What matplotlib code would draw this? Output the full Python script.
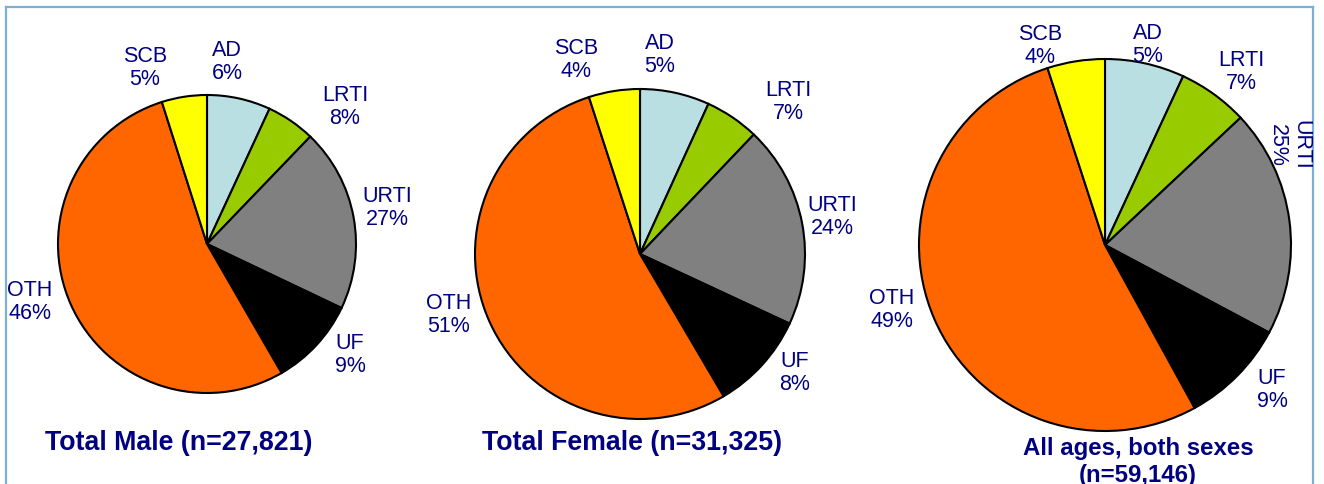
import matplotlib
matplotlib.use("Agg")
import matplotlib.pyplot as plt
from matplotlib.lines import Line2D

plt.rcParams['font.family'] = ['Liberation Sans', 'DejaVu Sans']

categories = ["AD", "LRTI", "URTI", "UF", "OTH", "SCB"]
colors = ["#B9DFE3", "#99CC00", "#808080", "#000000", "#FF6600", "#FFFF00"]

# slice sizes as drawn (percent)
male_sizes = [6.9, 5.3, 19.9, 9.6, 53.5, 4.9]
female_sizes = [6.8, 5.3, 19.8, 9.6, 53.4, 5.0]
all_sizes = [6.9, 6.1, 19.8, 9.2, 53.0, 5.0]

# percentages as printed in the labels
male_labels = [6, 8, 27, 9, 46, 5]
female_labels = [5, 7, 24, 8, 51, 4]
all_labels = [5, 7, 25, 9, 49, 4]

titles = ["Total Male (n=27,821)", "Total Female (n=31,325)",
          "All ages, both sexes\n(n=59,146)"]

W, H = 1324, 485
NAVY = "#000080"

fig = plt.figure(figsize=(W / 100, H / 100), dpi=100)
ax = fig.add_axes([0, 0, 1, 1])


def sy(y):
    return H - y


pies = [
    dict(sizes=male_sizes, labels=male_labels, center=(207, 245), r=149,
         label_pos=[(227, 62), (345, 107), (387, 208), (350, 355), (30, 302), (145, 68)],
         title_pos=(179, 443), tsize=19.3, tls=1.1),
    dict(sizes=female_sizes, labels=female_labels, center=(640, 255), r=165,
         label_pos=[(660, 55), (788, 102), (832, 217), (795, 373), (449, 315), (576, 60)],
         title_pos=(632, 443), tsize=19.3, tls=1.1),
    dict(sizes=all_sizes, labels=all_labels, center=(1105, 246), r=186,
         label_pos=[(1148, 45), (1241, 72), (1289, 145), (1272, 390), (892, 310), (1040, 46)],
         title_pos=(1138, 462), tsize=17.3, tls=1.25),
]

for i, p in enumerate(pies):
    cx, cy = p["center"]
    ax.pie(p["sizes"], colors=colors, startangle=90, counterclock=False,
           center=(cx, sy(cy)), radius=p["r"], frame=True,
           wedgeprops=dict(edgecolor="black", linewidth=1.5))
    for j, (cat, pct) in enumerate(zip(categories, p["labels"])):
        lx, ly = p["label_pos"][j]
        rot = -90 if (i == 2 and cat == "URTI") else 0
        ax.text(lx, sy(ly), f"{cat}\n{pct}%", ha="center", va="center",
                fontsize=15.5, color=NAVY, rotation=rot, linespacing=1.15)
    tx, ty = p["title_pos"]
    ax.text(tx, sy(ty), titles[i], ha="center", va="center", fontsize=p["tsize"],
            fontweight="bold", color=NAVY, linespacing=p["tls"])

ax.set_xlim(0, W)
ax.set_ylim(0, H)
ax.set_aspect("equal")
ax.axis("off")

# light blue frame
bc = "#7BAFD4"
ax.add_line(Line2D([6, 6], [sy(8), -10], color=bc, lw=1.6, clip_on=False))
ax.add_line(Line2D([6, 1313], [sy(8), sy(8)], color=bc, lw=1.6, clip_on=False))
ax.add_line(Line2D([1313, 1313], [sy(8), -10], color=bc, lw=1.6, clip_on=False))

fig.savefig("out.png", dpi=100)
